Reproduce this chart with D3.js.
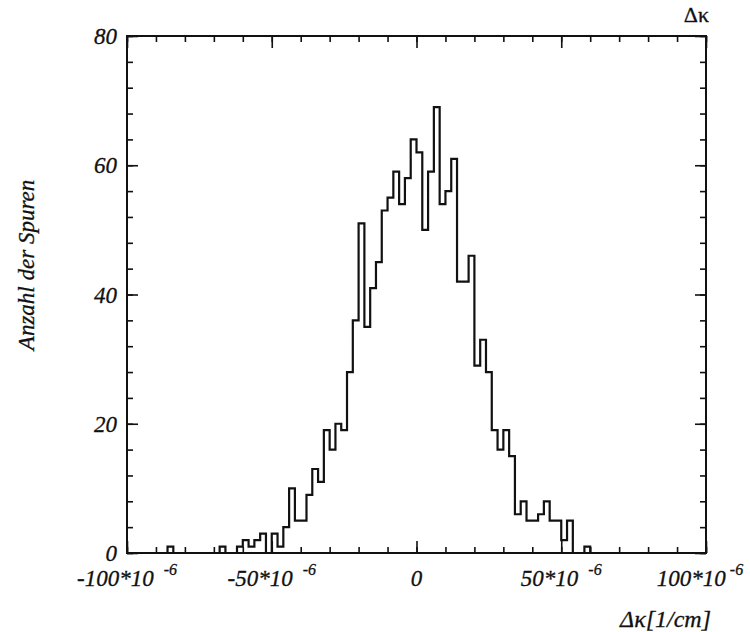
<html>
<head>
<meta charset="UTF-8">
<script src="https://d3js.org/d3.v7.min.js"></script>
<style>
  body { margin: 0; background: #fff; }
  text { font-family: "Liberation Serif", "Times New Roman", serif; font-style: italic; fill: #111; stroke: #111; stroke-width: 0.3; }
</style>
</head>
<body>
<svg width="750" height="632"></svg>
<script>
// histogram of delta kappa, bins are 2*10^-6 wide, lower edge given in units of 10^-6 1/cm
var binLo = [-86,-84,-82,-80,-78,-76,-74,-72,-70,-68,-66,-64,-62,-60,-58,-56,-54,-52,-50,-48,
             -46,-44,-42,-40,-38,-36,-34,-32,-30,-28,-26,-24,-22,-20,-18,-16,-14,-12,-10,-8,
             -6,-4,-2,0,2,4,6,8,10,12,14,16,18,20,22,24,26,28,30,32,
             34,36,38,40,42,44,46,48,50,52,54,56,58];
var counts = [1,0,0,0,0,0,0,0,0,1,0,0,1,2,1,2,3,0,3,1,
              4,10,5,5,9,13,11,19,16,20,19,28,36,51,35,41,45,53,55,59,
              54,58,64,62,50,59,69,54,56,61,42,42,46,29,33,28,19,16,19,15,
              6,8,5,5,6,8,5,5,2,5,0,0,1];
var binWidth = 2;

var xTicks = [-100, -50, 0, 50, 100];
var xLabels = ["-100*10", "-50*10", "0", "50*10", "100*10"];
var xMinor = [-100,-90,-80,-70,-60,-50,-40,-30,-20,-10,0,10,20,30,40,50,60,70,80,90,100];
var yTicks = [0, 20, 40, 60, 80];
var yMinor = [0,4,8,12,16,20,24,28,32,36,40,44,48,52,56,60,64,68,72,76,80];

var svg = d3.select("svg");
var marge = {top: 36, left: 127, right: 44, bottom: 79};
var width = 750 - marge.left - marge.right;
var height = 632 - marge.top - marge.bottom;
var g = svg.append("g").attr("transform", "translate(" + marge.left + "," + marge.top + ")");

var x = d3.scaleLinear().domain([-100, 100]).range([0, width]);
var y = d3.scaleLinear().domain([0, 80]).range([height, 0]);

// ticks on all four sides, pointing inward
function ticks(axis, vals, size) {
    return axis.tickValues(vals).tickSizeInner(size).tickSizeOuter(0).tickFormat("");
}
g.append("g").attr("transform", "translate(0," + height + ")").call(ticks(d3.axisBottom(x), xMinor, -6));
g.append("g").attr("transform", "translate(0," + height + ")").call(ticks(d3.axisBottom(x), xTicks, -12));
g.append("g").call(ticks(d3.axisTop(x), xMinor, -6));
g.append("g").call(ticks(d3.axisTop(x), xTicks, -12));
g.append("g").call(ticks(d3.axisLeft(y), yMinor, -6));
g.append("g").call(ticks(d3.axisLeft(y), yTicks, -11));
g.append("g").attr("transform", "translate(" + width + ",0)").call(ticks(d3.axisRight(y), yMinor, -6));
g.append("g").attr("transform", "translate(" + width + ",0)").call(ticks(d3.axisRight(y), yTicks, -11));
g.selectAll(".domain").remove();
g.selectAll(".tick line").attr("stroke", "#111").attr("stroke-width", 1.6);

// frame
g.append("rect").attr("width", width).attr("height", height)
    .attr("fill", "none").attr("stroke", "#111").attr("stroke-width", 2);

// y labels
g.selectAll(".ylab").data(yTicks).enter().append("text")
    .attr("x", -10).attr("y", function(d) { return y(d); })
    .attr("dy", "0.35em").attr("text-anchor", "end")
    .style("font-size", "23px")
    .text(function(d) { return d; });

// x labels with exponent (the last one is pulled in a bit so it stays on the page)
var xl = g.selectAll(".xlab").data(xTicks).enter().append("text")
    .attr("x", function(d) { return d == 100 ? x(d) - 6 : x(d); })
    .attr("y", height + 33)
    .attr("text-anchor", "middle")
    .style("font-size", "23px");
xl.append("tspan").text(function(d, i) { return xLabels[i]; });
xl.filter(function(d) { return d != 0; }).append("tspan")
    .attr("dx", function(d) { return d == 100 ? 4 : 10; })
    .attr("dy", -11).style("font-size", "16px").text("-6");

// histogram outline
var pts = [{x: binLo[0], c: 0}];
binLo.forEach(function(d, i) { pts.push({x: d, c: counts[i]}); });
pts.push({x: binLo[binLo.length - 1] + binWidth, c: 0});
var line = d3.line().curve(d3.curveStepAfter)
    .x(function(d) { return x(d.x); })
    .y(function(d) { return y(d.c); });
g.append("path").datum(pts).attr("d", line)
    .attr("fill", "none").attr("stroke", "#111").attr("stroke-width", 2.2);

// axis titles
svg.append("text").attr("transform", "translate(34,265) rotate(-90)")
    .attr("text-anchor", "middle").style("font-size", "23px").text("Anzahl der Spuren");
svg.append("text").attr("x", 711).attr("y", 627).attr("text-anchor", "end")
    .style("font-size", "24px").text("\u0394\u03ba[1/cm]");
svg.append("text").attr("x", 709).attr("y", 22).attr("text-anchor", "end")
    .style("font-size", "22px").style("font-style", "normal").text("\u0394\u03ba");
</script>
</body>
</html>
